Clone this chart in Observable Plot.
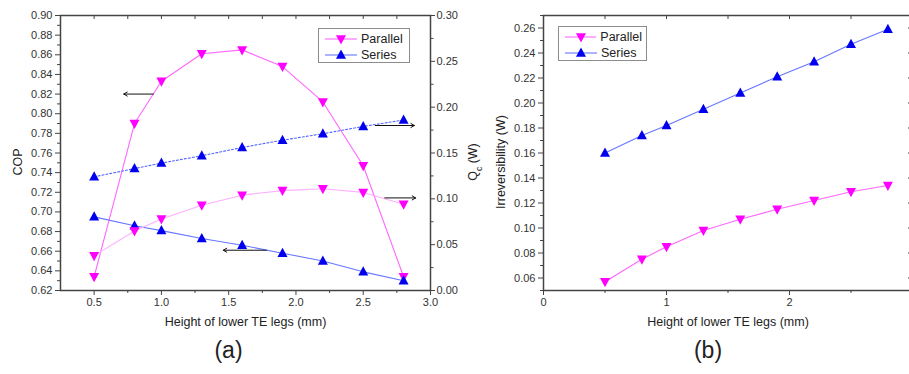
<!DOCTYPE html>
<html>
<head>
<meta charset="utf-8">
<script src="https://cdn.jsdelivr.net/npm/d3@7"></script>
<script src="https://cdn.jsdelivr.net/npm/@observablehq/plot@0.6"></script>
<style>
  html, body { margin: 0; padding: 0; background: #ffffff; overflow: hidden; }
  #wrap { position: relative; width: 909px; height: 374px; overflow: hidden; font-family: 'Liberation Sans', Arial, sans-serif; }
  .layer { position: absolute; top: 0; }
  .legend { position: absolute; box-sizing: border-box; border: 1px solid #8c8c8c; background: #fff; padding: 2px 4px 0 6px; font-size: 12.5px; color: #222; }
  .legend .row { display: flex; align-items: center; height: 16px; }
  .legend svg { margin-right: 4px; }
</style>
</head>
<body>
<div id="wrap"></div>
<script>
// Height of the lower TE legs (mm)
const heights = [0.5, 0.8, 1.0, 1.3, 1.6, 1.9, 2.2, 2.5, 2.8];

// Panel (a): coefficient of performance
const copParallel = [0.634, 0.790, 0.833, 0.861, 0.865, 0.848, 0.812, 0.747, 0.634];
const copSeries   = [0.695, 0.686, 0.681, 0.673, 0.666, 0.658, 0.650, 0.639, 0.630];

// Panel (a): cooling capacity Qc (W)
const qcParallel = [0.038, 0.065, 0.078, 0.093, 0.104, 0.109, 0.111, 0.107, 0.094];
const qcSeries   = [0.124, 0.133, 0.139, 0.147, 0.156, 0.164, 0.171, 0.179, 0.186];

// Panel (b): irreversibility (W)
const irrParallel = [0.057, 0.075, 0.085, 0.098, 0.107, 0.115, 0.122, 0.129, 0.134];
const irrSeries   = [0.160, 0.174, 0.182, 0.195, 0.208, 0.221, 0.233, 0.247, 0.259];

// Tick values
const copTicks  = [0.62, 0.64, 0.66, 0.68, 0.70, 0.72, 0.74, 0.76, 0.78, 0.80, 0.82, 0.84, 0.86, 0.88, 0.90];
const copMinor  = [0.63, 0.65, 0.67, 0.69, 0.71, 0.73, 0.75, 0.77, 0.79, 0.81, 0.83, 0.85, 0.87, 0.89];
const qcTicks   = [0.00, 0.05, 0.10, 0.15, 0.20, 0.25, 0.30];
const qcMinor   = [0.025, 0.075, 0.125, 0.175, 0.225, 0.275];
const xTicksA   = [0.5, 1.0, 1.5, 2.0, 2.5, 3.0];
const xMinorA   = [0.75, 1.25, 1.75, 2.25, 2.75];
const irrTicks  = [0.06, 0.08, 0.10, 0.12, 0.14, 0.16, 0.18, 0.20, 0.22, 0.24, 0.26];
const irrMinor  = [0.05, 0.07, 0.09, 0.11, 0.13, 0.15, 0.17, 0.19, 0.21, 0.23, 0.25, 0.27];
const xTicksB   = [0, 1, 2];
const xMinorB   = [0.5, 1.5, 2.5];

// Direction arrows pointing each curve to its axis
const copArrows = [
  {x1: 0.94, x2: 0.72, y: 0.820},
  {x1: 1.78, x2: 1.46, y: 0.661}
];
const qcArrows = [
  {x1: 2.59, x2: 2.88, y: 0.180},
  {x1: 2.66, x2: 2.89, y: 0.101}
];

const series = ["Parallel", "Series"];
const markerColor = {Parallel: "#ff00ff", Series: "#0000ee"};
const lineColor   = {Parallel: "#ff66ff", Series: "#6677ff"};

// Filled triangle symbols (up for Series, down for Parallel)
const triUp = {draw(ctx, size) { const r = Math.sqrt(size / Math.PI); ctx.moveTo(0, -1.1 * r); ctx.lineTo(r, 0.75 * r); ctx.lineTo(-r, 0.75 * r); ctx.closePath(); }};
const triDown = {draw(ctx, size) { const r = Math.sqrt(size / Math.PI); ctx.moveTo(0, 1.1 * r); ctx.lineTo(r, -0.75 * r); ctx.lineTo(-r, -0.75 * r); ctx.closePath(); }};

const rows = (ys) => heights.map((h, i) => ({h, v: ys[i]}));
const font = "'Liberation Sans', Arial, sans-serif";
const style = {fontFamily: font, fontSize: "11px", color: "#333", background: "transparent", overflow: "visible", maxWidth: "none"};
const f2 = d3.format(".2f");
const blank = () => "";
const axisColor = "#444";
const inTick = 4; // length of the inward mirror ticks

const W_A = 470, H = 374;
const marginA = {marginTop: 15, marginRight: 40, marginBottom: 84, marginLeft: 60};
const frameH = H - marginA.marginTop - marginA.marginBottom;

// Panel (a), COP layer with the left axis and bottom axis
const copPlot = Plot.plot({
  width: W_A, height: H, ...marginA, style,
  x: {domain: [0.25, 3.0]},
  y: {domain: [0.62, 0.90]},
  marks: [
    Plot.axisY({ticks: copTicks, tickFormat: f2, tickSize: 5, tickPadding: 3, label: null, stroke: axisColor}),
    Plot.axisY({ticks: copMinor, tickFormat: blank, tickSize: 3, label: null, stroke: axisColor}),
    Plot.axisX({ticks: xTicksA, tickFormat: d3.format(".1f"), tickSize: 5, tickPadding: 3, label: null, stroke: axisColor}),
    Plot.axisX({ticks: xMinorA, tickFormat: blank, tickSize: 3, label: null, stroke: axisColor}),
    // inward ticks hanging from the top edge
    Plot.ruleX([...xTicksA, ...xMinorA], {x: d => d, insetBottom: frameH - inTick, stroke: axisColor, strokeWidth: 1}),
    Plot.frame({stroke: axisColor, strokeWidth: 1.5}),
    Plot.line(rows(copParallel), {x: "h", y: "v", stroke: lineColor.Parallel, strokeWidth: 1.1}),
    Plot.line(rows(copSeries), {x: "h", y: "v", stroke: lineColor.Series, strokeWidth: 1.1}),
    Plot.dot(rows(copParallel), {x: "h", y: "v", r: 5, symbol: triDown, fill: markerColor.Parallel, stroke: null}),
    Plot.dot(rows(copSeries), {x: "h", y: "v", r: 5, symbol: triUp, fill: markerColor.Series, stroke: null}),
    Plot.arrow(copArrows, {x1: "x1", x2: "x2", y1: "y", y2: "y", stroke: "#111", strokeWidth: 1, headLength: 6}),
    Plot.text(["COP"], {frameAnchor: "left", textAnchor: "middle", dx: -43, dy: 9, rotate: -90, fontSize: 12.5, fill: "#222"}),
    Plot.text(["Height of lower TE legs (mm)"], {frameAnchor: "bottom", dy: 35, fontSize: 12.5, fill: "#222"}),
    Plot.text(["(a)"], {frameAnchor: "bottom", dx: -17, dy: 67, fontSize: 23, fill: "#222"})
  ]
});

// Panel (a), Qc layer with the right axis
const qcPlot = Plot.plot({
  width: W_A, height: H, ...marginA, style,
  x: {domain: [0.25, 3.0], axis: null},
  y: {domain: [0, 0.30]},
  marks: [
    Plot.axisY({anchor: "right", ticks: qcTicks, tickFormat: f2, tickSize: 4, tickPadding: 2, label: null, stroke: axisColor}),
    Plot.axisY({anchor: "right", ticks: qcMinor, tickFormat: blank, tickSize: 2.5, label: null, stroke: axisColor}),
    Plot.line(rows(qcParallel), {x: "h", y: "v", stroke: "#ffb0ff", strokeWidth: 1.1}),
    Plot.line(rows(qcSeries), {x: "h", y: "v", stroke: "#4f63ff", strokeWidth: 1.1, strokeDasharray: "2,2"}),
    Plot.dot(rows(qcParallel), {x: "h", y: "v", r: 5, symbol: triDown, fill: markerColor.Parallel, stroke: null}),
    Plot.dot(rows(qcSeries), {x: "h", y: "v", r: 5, symbol: triUp, fill: markerColor.Series, stroke: null}),
    Plot.arrow(qcArrows, {x1: "x1", x2: "x2", y1: "y", y2: "y", stroke: "#111", strokeWidth: 1, headLength: 6}),
    Plot.text(["Qc (W)"], {frameAnchor: "right", textAnchor: "middle", dx: 42, dy: 9, rotate: -90, fontSize: 12.5, fill: "#222"})
  ]
});

// Subscript for Qc
for (const t of qcPlot.querySelectorAll("text")) {
  if (t.textContent === "Qc (W)") {
    t.innerHTML = 'Q<tspan baseline-shift="sub" font-size="8.5">c</tspan> (W)';
  }
}

// Panel (b), irreversibility
const W_B = 460;
const marginB = {marginTop: 15, marginRight: 18, marginBottom: 84, marginLeft: 73};
const frameW_B = W_B - marginB.marginLeft - marginB.marginRight;
const irrPlot = Plot.plot({
  width: W_B, height: H, ...marginB, style,
  x: {domain: [0, 3]},
  y: {domain: [0.05, 0.27]},
  marks: [
    Plot.axisY({ticks: irrTicks, tickFormat: f2, tickSize: 5, tickPadding: 3, label: null, stroke: axisColor}),
    Plot.axisY({ticks: irrMinor, tickFormat: blank, tickSize: 3, label: null, stroke: axisColor}),
    Plot.axisX({ticks: xTicksB, tickFormat: d3.format("d"), tickSize: 5, tickPadding: 3, label: null, stroke: axisColor}),
    Plot.axisX({ticks: xMinorB, tickFormat: blank, tickSize: 3, label: null, stroke: axisColor}),
    // inward ticks along the top and right edges
    Plot.ruleX([...xTicksB, ...xMinorB], {x: d => d, insetBottom: frameH - inTick, stroke: axisColor, strokeWidth: 1}),
    Plot.ruleY(irrTicks, {y: d => d, insetLeft: frameW_B - inTick, stroke: axisColor, strokeWidth: 1}),
    Plot.frame({stroke: axisColor, strokeWidth: 1.5}),
    Plot.line(rows(irrParallel), {x: "h", y: "v", stroke: lineColor.Parallel, strokeWidth: 1.1}),
    Plot.line(rows(irrSeries), {x: "h", y: "v", stroke: lineColor.Series, strokeWidth: 1.1}),
    Plot.dot(rows(irrParallel), {x: "h", y: "v", r: 5, symbol: triDown, fill: markerColor.Parallel, stroke: null}),
    Plot.dot(rows(irrSeries), {x: "h", y: "v", r: 5, symbol: triUp, fill: markerColor.Series, stroke: null}),
    Plot.text(["Irreversibility (W)"], {frameAnchor: "left", textAnchor: "middle", dx: -43, dy: 9, rotate: -90, fontSize: 12.5, fill: "#222"}),
    Plot.text(["Height of lower TE legs (mm)"], {frameAnchor: "bottom", dy: 35, fontSize: 12.5, fill: "#222"}),
    Plot.text(["(b)"], {frameAnchor: "bottom", dx: -20, dy: 67, fontSize: 23, fill: "#222"})
  ]
});

const wrap = document.getElementById("wrap");
function place(node, left) {
  node.classList.add("layer");
  node.style.left = left + "px";
  wrap.appendChild(node);
}
place(copPlot, 0);
place(qcPlot, 0);
place(irrPlot, 470);

// Legends
function legend(left, top, width, height) {
  const box = document.createElement("div");
  box.className = "legend";
  Object.assign(box.style, {left: left + "px", top: top + "px", width: width + "px", height: height + "px"});
  for (const s of series) {
    const row = document.createElement("div");
    row.className = "row";
    const sym = d3.create("svg").attr("width", 32).attr("height", 12);
    sym.append("line").attr("x1", 0).attr("x2", 32).attr("y1", 6).attr("y2", 6)
      .attr("stroke", lineColor[s]).attr("stroke-width", 1.1);
    const p = d3.path();
    (s === "Parallel" ? triDown : triUp).draw(p, Math.PI * 25);
    sym.append("path").attr("transform", "translate(16,6)").attr("d", p.toString()).attr("fill", markerColor[s]);
    row.appendChild(sym.node());
    const label = document.createElement("span");
    label.textContent = s;
    row.appendChild(label);
    box.appendChild(row);
  }
  wrap.appendChild(box);
}
legend(318, 28, 92, 35);
legend(558, 26, 89, 35);
</script>
</body>
</html>
